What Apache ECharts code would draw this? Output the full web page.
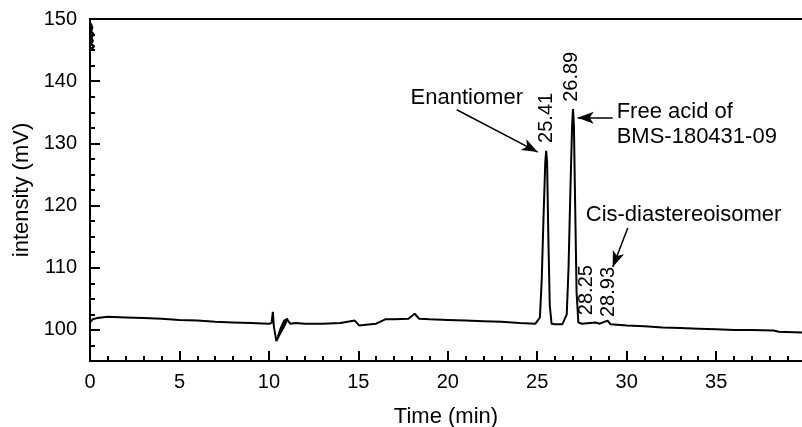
<!DOCTYPE html>
<html>
<head>
<meta charset="utf-8">
<script src="https://cdn.jsdelivr.net/npm/echarts@6/dist/echarts.min.js"></script>
<style>
  html, body { margin: 0; padding: 0; background: #fff; }
  #chart { width: 802px; height: 427px; }
</style>
</head>
<body>
<div id="chart"></div>
<script>
// time (min) / intensity (mV)
const trace = [
  [0, 101.2], [0.15, 101.7], [0.4, 101.9], [1, 102.1], [2, 102.0], [3, 101.9],
  [4, 101.8], [5, 101.6], [6, 101.5], [7, 101.3], [8, 101.2], [9, 101.1],
  [10, 101.0], [10.15, 101.1], [10.22, 102.9], [10.28, 100.5], [10.42, 98.2],
  [10.6, 99.3], [10.8, 100.6], [11.0, 101.7], [11.2, 101.0], [11.5, 101.1],
  [12, 101.0], [13, 101.0], [14, 101.1], [14.8, 101.5], [15.05, 100.7],
  [15.3, 100.8], [16, 101.0], [16.5, 101.7], [17, 101.7], [17.8, 101.8],
  [18.15, 102.6], [18.4, 101.8], [19, 101.7], [20, 101.6], [21, 101.5],
  [22, 101.4], [23, 101.3], [24, 101.1], [24.9, 101.0],
  [25.0, 101.0], [25.15, 102], [25.25, 108], [25.35, 118], [25.45, 127],
  [25.5, 128.8], [25.55, 127], [25.62, 115], [25.7, 104], [25.8, 101.0],
  [26.0, 100.9], [26.4, 100.9],
  [26.5, 101], [26.65, 102.5], [26.75, 110], [26.85, 122], [26.95, 133],
  [27.0, 135.5], [27.05, 133], [27.12, 120], [27.2, 106], [27.3, 101.2],
  [27.5, 101.0], [28.25, 101.2], [28.5, 101.0], [28.93, 101.5], [29.1, 100.9],
  [30, 100.7], [31, 100.6], [32, 100.4], [33, 100.3], [34, 100.2], [35, 100.1],
  [36, 100.0], [37, 100.0], [38.2, 99.9], [38.5, 99.7], [39.8, 99.6]
];
// small loop after the dip near 10.5 min
const loop = [
  [10.5, 98.9], [10.75, 100.0], [10.95, 101.2], [11.05, 101.8],
  [10.85, 101.5], [10.65, 100.2], [10.5, 98.9]
];
// off-scale noise at injection
const startNoise = [
  [0.03, 149.3], [0.12, 148.6], [0.05, 148.0], [0.2, 147.5], [0.06, 147.0],
  [0.15, 146.5], [0.04, 146.0], [0.22, 145.6], [0.08, 145.2]
];

const xLabels = [0, 5, 10, 15, 20, 25, 30, 35];
const xMinor = [1, 2, 3, 4, 6, 7, 8, 9, 11, 12, 13, 14, 16, 17, 18, 19, 21, 22, 23, 24,
  26, 27, 28, 29, 31, 32, 33, 34, 36, 37, 38, 39];
const yLabels = [100, 110, 120, 130, 140, 150];
const yMinor = [97.5, 102.5, 105, 107.5, 112.5, 115, 117.5, 122.5, 125, 127.5,
  132.5, 135, 137.5, 142.5, 145, 147.5];

// retention time labels: [text, time, mV]
const peakLabels = [
  ["25.41", 25.53, 134.1],
  ["26.89", 26.93, 140.7],
  ["28.25", 27.77, 106.4],
  ["28.93", 28.99, 106.1]
];
// name labels: [text, time, mV, align]
const nameLabels = [
  ["Enantiomer", 21.06, 137.3, "center"],
  ["Free acid of", 29.44, 135.05, "left"],
  ["BMS-180431-09", 29.44, 131.0, "left"],
  ["Cis-diastereoisomer", 33.18, 118.5, "center"]
];
// arrows: [fromTime, fromMV, toTime, toMV]
const arrows = [
  [20.5, 135.4, 25.03, 128.6],
  [29.22, 134.1, 27.26, 134.1],
  [30.06, 116.4, 29.22, 110.1]
];

const font = "'Liberation Sans', Arial, sans-serif";
const black = "#000";

const chart = echarts.init(document.getElementById("chart"), null, { renderer: "canvas" });

const options = {
  animation: false,
  backgroundColor: "#fff",
  grid: { left: 90, top: 19, right: 0, bottom: 66, containLabel: false, outerBoundsMode: "none" },
  xAxis: [
    {
      type: "value", min: 0, max: 39.8, position: "bottom",
      name: "Time (min)", nameLocation: "middle", nameGap: 45,
      nameTextStyle: { fontSize: 22, color: black, fontFamily: font },
      axisLine: { show: true, lineStyle: { color: black, width: 2 } },
      axisTick: { show: true, inside: true, length: 10, customValues: xLabels, lineStyle: { color: black, width: 2 } },
      axisLabel: { show: true, customValues: xLabels, margin: 11, fontSize: 20, color: black, fontFamily: font },
      splitLine: { show: false }
    },
    {
      type: "value", min: 0, max: 39.8, position: "bottom",
      axisLine: { show: false },
      axisTick: { show: true, inside: true, length: 5, customValues: xMinor, lineStyle: { color: black, width: 2 } },
      axisLabel: { show: false },
      splitLine: { show: false }
    },
    {
      type: "value", min: 0, max: 39.8, position: "top",
      axisLine: { show: true, onZero: false, lineStyle: { color: black, width: 2 } },
      axisTick: { show: false },
      axisLabel: { show: false },
      splitLine: { show: false }
    }
  ],
  yAxis: [
    {
      type: "value", min: 95, max: 150, position: "left",
      name: "intensity (mV)", nameLocation: "middle", nameGap: 52,
      nameTextStyle: { fontSize: 22, color: black, fontFamily: font },
      axisLine: { show: true, lineStyle: { color: black, width: 2 } },
      axisTick: { show: true, inside: true, length: 10, customValues: yLabels, lineStyle: { color: black, width: 2 } },
      axisLabel: { show: true, customValues: yLabels, margin: 13, fontSize: 20, color: black, fontFamily: font },
      splitLine: { show: false }
    },
    {
      type: "value", min: 95, max: 150, position: "left",
      axisLine: { show: false },
      axisTick: { show: true, inside: true, length: 5, customValues: yMinor, lineStyle: { color: black, width: 2 } },
      axisLabel: { show: false },
      splitLine: { show: false }
    }
  ],
  series: [
    {
      type: "line", data: trace, showSymbol: false, silent: true,
      lineStyle: { color: black, width: 2 },
      markPoint: {
        silent: true, symbol: "circle", symbolSize: 0,
        data: peakLabels.map(p => ({
          coord: [p[1], p[2]],
          label: { show: true, position: "inside", formatter: p[0], rotate: 90,
            fontSize: 20, color: black, fontFamily: font }
        })).concat(nameLabels.map(n => ({
          coord: [n[1], n[2]],
          label: { show: true, position: "inside", formatter: n[0], align: n[3],
            fontSize: 22, color: black, fontFamily: font }
        })))
      },
      markLine: {
        silent: true, animation: false,
        symbolSize: [9, 16],
        lineStyle: { color: black, width: 1.5, type: "solid" },
        label: { show: false },
        data: arrows.map(a => [
          { coord: [a[0], a[1]], symbol: "none" },
          { coord: [a[2], a[3]], symbol: "arrow" }
        ])
      }
    },
    {
      type: "line", data: loop, showSymbol: false, silent: true,
      lineStyle: { color: black, width: 2 }
    },
    {
      type: "line", data: startNoise, showSymbol: false, silent: true,
      lineStyle: { color: black, width: 2.5 }
    }
  ]
};

chart.setOption(options);
</script>
</body>
</html>
